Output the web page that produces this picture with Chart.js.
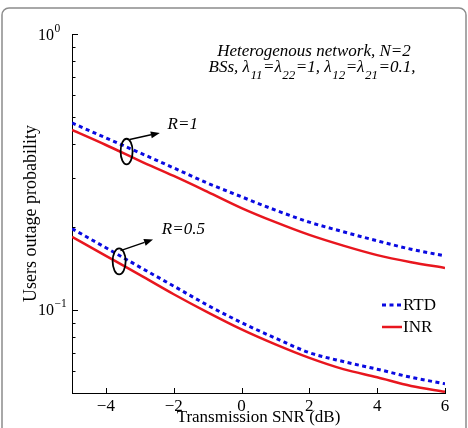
<!DOCTYPE html>
<html>
<head>
<meta charset="utf-8">
<script src="https://cdn.jsdelivr.net/npm/chart.js@4.4.1/dist/chart.umd.min.js"></script>
<style>
  html, body { margin: 0; padding: 0; background: #fff; }
  #wrap { width: 468px; height: 428px; }
</style>
</head>
<body>
<div id="wrap"><canvas id="chart" width="468" height="428" aria-label="Users outage probability vs transmission SNR"></canvas></div>
<script>
// values
const SNR_DB = [-5, -4, -3, -2, -1, 0, 1, 2, 3, 4, 5, 6];
const RTD_R1  = [0.476, 0.420, 0.371, 0.327, 0.288, 0.257, 0.230, 0.208, 0.192, 0.178, 0.166, 0.157];
const INR_R1  = [0.449, 0.396, 0.347, 0.306, 0.268, 0.234, 0.208, 0.187, 0.171, 0.158, 0.149, 0.142];
const RTD_R05 = [0.197, 0.168, 0.143, 0.122, 0.104, 0.090, 0.079, 0.070, 0.065, 0.061, 0.057, 0.054];
const INR_R05 = [0.184, 0.157, 0.134, 0.114, 0.098, 0.085, 0.075, 0.067, 0.061, 0.057, 0.053, 0.0505];

const X_TICKS = [-4, -2, 0, 2, 4, 6];
const Y_MAJOR = [1, 0.1];
const Y_MAJOR_LABELS = [['10', '0'], ['10', '\u22121']];
const Y_MINOR = [0.05, 0.06, 0.07, 0.08, 0.09, 0.2, 0.3, 0.4, 0.5, 0.6, 0.7, 0.8, 0.9];
const LEGEND = ['RTD', 'INR'];

const BLUE = 'rgb(10,10,225)';
const RED = 'rgb(232,22,30)';
const SERIF = '"Liberation Serif", "Times New Roman", serif';

const pts = ys => SNR_DB.map((x, i) => ({ x: x, y: ys[i] }));

const lineStyle = (color, dashed) => ({
  borderColor: color,
  backgroundColor: color,
  borderWidth: dashed ? 3 : 2.5,
  borderDash: dashed ? [4, 3.5] : [],
  pointRadius: 0,
  cubicInterpolationMode: 'monotone',
  fill: false,
});

const decor = {
  id: 'decor',
  afterDraw(chart) {
    const ctx = chart.ctx;
    const xs = chart.scales.x, ys = chart.scales.y;
    const area = chart.chartArea;
    const px = v => xs.getPixelForValue(v);
    const py = v => ys.getPixelForValue(v);
    ctx.save();

    // outer frame
    ctx.strokeStyle = '#8c8c8c';
    ctx.lineWidth = 1.5;
    ctx.beginPath();
    ctx.roundRect(2, 8, 464, 440, 7);
    ctx.stroke();

    // inward ticks
    ctx.strokeStyle = '#000';
    ctx.lineWidth = 1;
    ctx.beginPath();
    X_TICKS.forEach(v => {
      const x = Math.round(px(v)) + 0.5;
      ctx.moveTo(x, area.bottom);
      ctx.lineTo(x, area.bottom - 5);
    });
    Y_MAJOR.forEach(v => {
      const y = Math.round(py(v)) + 0.5;
      ctx.moveTo(area.left, y);
      ctx.lineTo(area.left + 6, y);
    });
    Y_MINOR.forEach(v => {
      const y = Math.round(py(v)) + 0.5;
      ctx.moveTo(area.left, y);
      ctx.lineTo(area.left + 3.5, y);
    });
    ctx.stroke();

    // y tick labels with superscripts
    ctx.fillStyle = '#000';
    ctx.textBaseline = 'alphabetic';
    Y_MAJOR.forEach((v, i) => {
      const y = py(v);
      ctx.font = '16px ' + SERIF;
      ctx.textAlign = 'right';
      ctx.fillText(Y_MAJOR_LABELS[i][0], 54, y + 5.5);
      ctx.font = '11.5px ' + SERIF;
      ctx.textAlign = 'left';
      ctx.fillText(Y_MAJOR_LABELS[i][1], 54.5, y - 2.5);
    });

    // header text
    ctx.font = 'italic 17px ' + SERIF;
    ctx.textAlign = 'center';
    ctx.fillText('Heterogenous network, N=2', 314, 56);
    const parts = [
      ['BSs, \u03bb', 0], ['11', 1], ['=\u03bb', 0], ['22', 1], ['=1, \u03bb', 0],
      ['12', 1], ['=\u03bb', 0], ['21', 1], ['=0.1,', 0],
    ];
    const mainF = 'italic 17px ' + SERIF, subF = 'italic 13px ' + SERIF;
    let total = 0;
    parts.forEach(p => { ctx.font = p[1] ? subF : mainF; total += ctx.measureText(p[0]).width + (p[1] ? 1 : 0); });
    let cx = 312 - total / 2;
    ctx.textAlign = 'left';
    parts.forEach(p => {
      ctx.font = p[1] ? subF : mainF;
      ctx.fillText(p[0], cx + (p[1] ? 0.5 : 0), p[1] ? 78.5 : 72);
      cx += ctx.measureText(p[0]).width + (p[1] ? 1 : 0);
    });

    // ellipse + arrow callouts
    const callouts = [
      { text: 'R=1', c: [-3.39, 0.375], rx: 6, ry: 12.8, from: [-3.3, 0.415], to: [-2.41, 0.438], lab: [-2.18, 0.468] },
      { text: 'R=0.5', c: [-3.61, 0.150], rx: 6.5, ry: 13, from: [-3.57, 0.164], to: [-2.61, 0.180], lab: [-2.35, 0.195] },
    ];
    callouts.forEach(k => {
      ctx.strokeStyle = '#000';
      ctx.lineWidth = 1.8;
      ctx.beginPath();
      ctx.ellipse(px(k.c[0]), py(k.c[1]), k.rx, k.ry, 0, 0, Math.PI * 2);
      ctx.stroke();
      const x0 = px(k.from[0]), y0 = py(k.from[1]);
      const x1 = px(k.to[0]), y1 = py(k.to[1]);
      const ang = Math.atan2(y1 - y0, x1 - x0);
      const hl = 9, hw = 3.5;
      ctx.lineWidth = 1.5;
      ctx.beginPath();
      ctx.moveTo(x0, y0);
      ctx.lineTo(x1 - hl * Math.cos(ang), y1 - hl * Math.sin(ang));
      ctx.stroke();
      ctx.fillStyle = '#000';
      ctx.beginPath();
      ctx.moveTo(x1, y1);
      ctx.lineTo(x1 - hl * Math.cos(ang) + hw * Math.sin(ang), y1 - hl * Math.sin(ang) - hw * Math.cos(ang));
      ctx.lineTo(x1 - hl * Math.cos(ang) - hw * Math.sin(ang), y1 - hl * Math.sin(ang) + hw * Math.cos(ang));
      ctx.closePath();
      ctx.fill();
      ctx.font = 'italic 17px ' + SERIF;
      ctx.textAlign = 'left';
      ctx.textBaseline = 'middle';
      ctx.fillText(k.text, px(k.lab[0]), py(k.lab[1]));
      ctx.textBaseline = 'alphabetic';
    });

    // legend
    const ds = chart.data.datasets;
    [0, 1].forEach(i => {
      const y = area.top + 271 + i * 22;
      const d = ds[i];
      ctx.strokeStyle = d.borderColor;
      ctx.lineWidth = d.borderWidth;
      ctx.setLineDash(d.borderDash);
      ctx.beginPath();
      ctx.moveTo(382, y);
      ctx.lineTo(402, y);
      ctx.stroke();
      ctx.setLineDash([]);
      ctx.fillStyle = '#000';
      ctx.font = '17px ' + SERIF;
      ctx.textAlign = 'left';
      ctx.textBaseline = 'middle';
      ctx.fillText(LEGEND[i], 403, y + 0.5);
    });
    ctx.restore();
  }
};

new Chart(document.getElementById('chart').getContext('2d'), {
  type: 'line',
  data: {
    datasets: [
      { label: 'RTD, R=1', data: pts(RTD_R1), ...lineStyle(BLUE, true) },
      { label: 'INR, R=1', data: pts(INR_R1), ...lineStyle(RED, false) },
      { label: 'RTD, R=0.5', data: pts(RTD_R05), ...lineStyle(BLUE, true) },
      { label: 'INR, R=0.5', data: pts(INR_R05), ...lineStyle(RED, false) },
    ]
  },
  options: {
    responsive: false,
    animation: false,
    devicePixelRatio: 1,
    layout: { padding: { top: 34, right: 23, bottom: 0, left: 0 } },
    scales: {
      x: {
        type: 'linear',
        min: -5,
        max: 6,
        afterBuildTicks: s => { s.ticks = X_TICKS.map(v => ({ value: v })); },
        afterFit: s => { s.height = 35; },
        grid: { drawOnChartArea: false, drawTicks: false },
        border: { color: '#000', width: 1 },
        ticks: {
          padding: 3,
          color: '#000',
          maxRotation: 0,
          autoSkip: false,
          font: { family: SERIF, size: 17 },
          callback: v => String(v).replace('-', '\u2212'),
        },
        title: {
          display: true,
          text: 'Transmission SNR (dB)',
          color: '#000',
          font: { family: SERIF, size: 17 },
          padding: 0,
        },
      },
      y: {
        type: 'logarithmic',
        min: 0.05,
        max: 1,
        afterFit: s => { s.width = 72; },
        grid: { drawOnChartArea: false, drawTicks: false },
        border: { color: '#000', width: 1 },
        ticks: { display: false },
        title: {
          display: true,
          text: 'Users outage probability',
          color: '#000',
          font: { family: SERIF, size: 18 },
          padding: { top: 20, bottom: 0 },
        },
      },
    },
    plugins: {
      legend: { display: false },
      tooltip: { enabled: false },
    },
  },
  plugins: [decor],
});
</script>
</body>
</html>
